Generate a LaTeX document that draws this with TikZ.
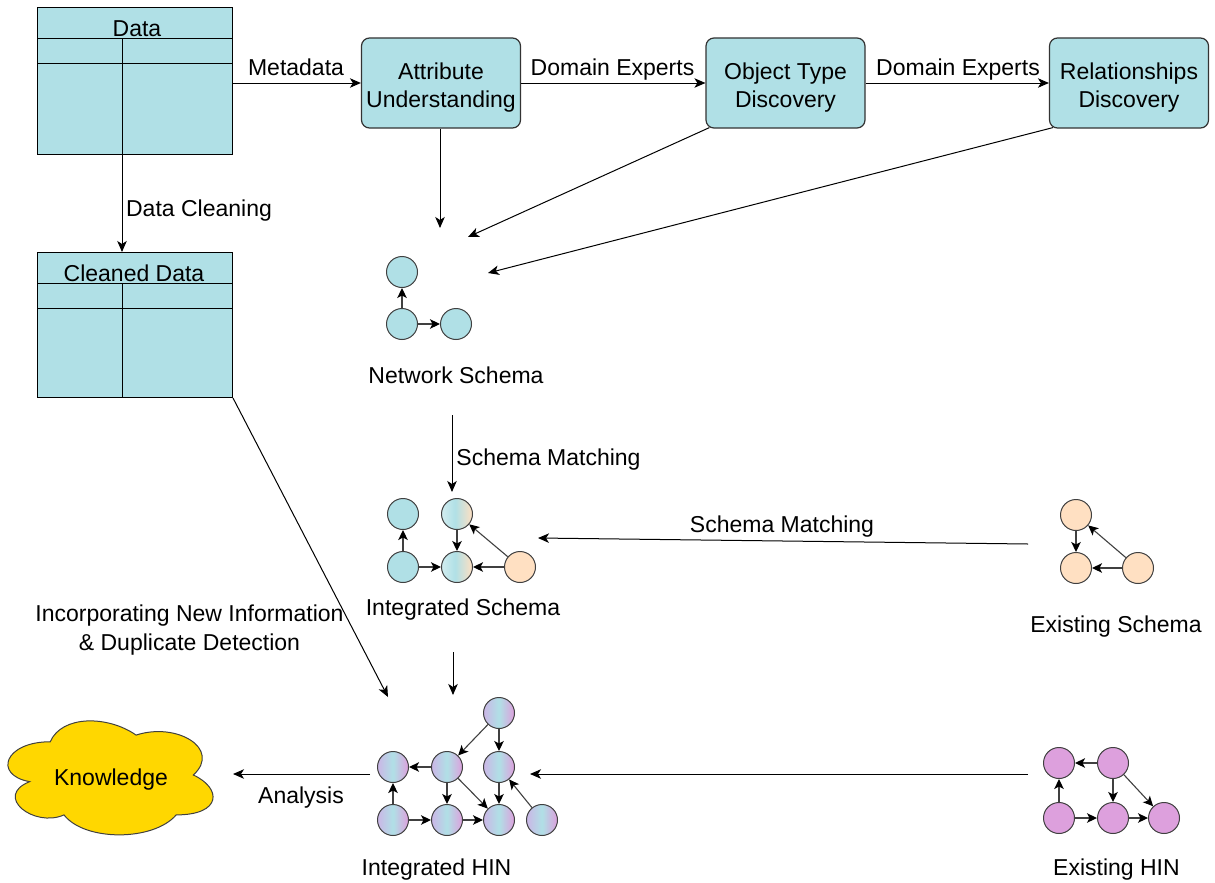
\documentclass[tikz,border=0pt]{standalone}
\usepackage{fontspec}
\setmainfont{Liberation Sans}
\usetikzlibrary{arrows.meta,calc}
\definecolor{cyanF}{HTML}{B0E0E6}
\definecolor{peachF}{HTML}{FFE0C2}
\definecolor{plumF}{HTML}{DDA0DD}
\definecolor{lavF}{HTML}{CBB6E6}
\definecolor{lightcy}{HTML}{D2ECEF}
\definecolor{goldF}{HTML}{FFD700}
\definecolor{edgeC}{HTML}{404040}
\pgfdeclarehorizontalshading{hinshade}{100bp}{color(0bp)=(lavF); color(25bp)=(lavF); color(50bp)=(cyanF); color(75bp)=(plumF); color(100bp)=(plumF)}
\pgfdeclarehorizontalshading{mixshade}{100bp}{color(0bp)=(lightcy); color(25bp)=(lightcy); color(47bp)=(cyanF); color(75bp)=(peachF); color(100bp)=(peachF)}
\begin{document}
\begin{tikzpicture}[x=1pt,y=-1pt,
  font=\fontsize{23}{28.5}\selectfont,
  arr/.style={-{Stealth[length=11pt,width=9.5pt,inset=3pt]}, line width=1pt, black},
  garr/.style={-{Stealth[length=10pt,width=9.5pt,inset=2.5pt,color=black]}, line width=1.1pt, edgeC},
  lbl/.style={inner sep=0pt, anchor=base},
  mlbl/.style={inner sep=0pt, align=center},
  tbl/.style={draw=black, line width=1pt, fill=cyanF, minimum width=195pt, inner sep=0pt, anchor=north west},
  rbox/.style={draw=black!80, line width=1.2pt, fill=cyanF, rounded corners=8pt, minimum width=159pt, minimum height=90pt, inner sep=0pt},
  vert/.style={circle, draw=edgeC, line width=1pt, minimum size=31pt, inner sep=0pt},
  cy/.style={vert, fill=cyanF},
  pe/.style={vert, fill=peachF},
  pl/.style={vert, fill=plumF},
  mx/.style={vert, shading=mixshade},
  hn/.style={vert, shading=hinshade},
]
\useasboundingbox (0,0) rectangle (1215,883);

% ---- tables
\node[tbl, minimum height=147pt] (data) at (37,7) {};
\draw[line width=1pt] (37,39) -- (232,39) (37,64) -- (232,64) (122,39) -- (122,154);
\node[lbl] (datat) at (137,36.5) {Data};
\coordinate (dv) at (122,154);

\node[tbl, minimum height=145pt] (cd) at (37,252) {};
\draw[line width=1pt] (37,283) -- (232,283) (37,308) -- (232,308) (122,283) -- (122,397);
\node[lbl] (cdt) at (134,281.5) {Cleaned Data};

\draw[arr] (dv) -- (cd.north -| dv);
\node[lbl] (dcl) at (199,216) {Data Cleaning};

% ---- top boxes
\node[rbox] (att) at (441,83) {};
\node[mlbl] (attt) at (441,87.5) {Attribute\\Understanding};
\node[rbox] (otd) at (785.5,83) {};
\node[mlbl] (otdt) at (785.5,87.5) {Object Type\\Discovery};
\node[rbox] (rd) at (1129,83) {};
\node[mlbl] (rdt) at (1129,87.5) {Relationships\\Discovery};

\draw[arr] (data.east |- att) -- (att.west);
\node[lbl] (md) at (296,75) {Metadata};
\draw[arr] (att.east) -- (otd.west);
\node[lbl] (de1) at (612.5,75) {Domain Experts};
\draw[arr] (otd.east) -- (rd.west);
\node[lbl] (de2) at (958,75) {Domain Experts};

% ---- network schema
\coordinate (ns1) at (440,228);
\coordinate (ns2) at (468,237);
\coordinate (ns3) at (488,273);
\draw[arr] (att.south -| ns1) -- (ns1);
\draw[arr] ($(otd.south west)+(4,-1)$) -- (ns2);
\draw[arr] ($(rd.south west)+(4,-1)$) -- (ns3);

\node[cy] (n1) at (402,272) {};
\node[cy] (n2) at (402,324) {};
\node[cy] (n3) at (456,324) {};
\draw[garr] (n2) -- (n1);
\draw[garr] (n2) -- (n3);
\node[lbl] (nsl) at (456,383) {Network Schema};

% ---- schema matching
\coordinate (sm1a) at (452,415);
\coordinate (sm1b) at (452,492);
\draw[arr] (sm1a) -- (sm1b);
\node[lbl] (sml1) at (548.5,465) {Schema Matching};

% ---- integrated schema
\node[cy] (i1) at (403,514) {};
\node[mx] (i2) at (457,514) {};
\node[cy] (i3) at (403,567) {};
\node[mx] (i4) at (457,567) {};
\node[pe] (i5) at (520,567) {};
\draw[garr] (i3) -- (i1);
\draw[garr] (i3) -- (i4);
\draw[garr] (i2) -- (i4);
\draw[garr] (i5) -- (i4);
\draw[garr] (i5) -- (i2);
\node[lbl] (isl) at (463,615.5) {Integrated Schema};

% ---- existing schema
\node[pe] (s1) at (1076,515) {};
\node[pe] (s2) at (1076,568) {};
\node[pe] (s3) at (1138,568) {};
\draw[garr] (s1) -- (s2);
\draw[garr] (s3) -- (s2);
\draw[garr] (s3) -- (s1);
\node[lbl] (esl) at (1116,632) {Existing Schema};

\coordinate (sm2a) at (1028,544);
\coordinate (sm2b) at (538,538);
\draw[arr] (sm2a) -- (sm2b);
\node[lbl] (sml2) at (782,532) {Schema Matching};

% ---- to integrated HIN
\coordinate (ih1a) at (453,652);
\coordinate (ih1b) at (453,695);
\draw[arr] (ih1a) -- (ih1b);
\coordinate (ih2) at (388,697);
\draw[arr] (cd.south east) -- (ih2);
\node[mlbl] (inc) at (189.5,630) {Incorporating New Information\\\& Duplicate Detection};

% ---- integrated HIN
\node[hn] (h0) at (499,713) {};
\node[hn] (h1) at (393,767) {};
\node[hn] (h2) at (447,767) {};
\node[hn] (h3) at (499,767) {};
\node[hn] (h4) at (393,820) {};
\node[hn] (h5) at (447,820) {};
\node[hn] (h6) at (499,820) {};
\node[hn] (h7) at (542,820) {};
\draw[garr] (h0) -- (h2);
\draw[garr] (h0) -- (h3);
\draw[garr] (h2) -- (h1);
\draw[garr] (h4) -- (h1);
\draw[garr] (h4) -- (h5);
\draw[garr] (h5) -- (h6);
\draw[garr] (h2) -- (h5);
\draw[garr] (h2) -- (h6);
\draw[garr] (h3) -- (h6);
\draw[garr] (h7) -- (h3);
\node[lbl] (ihl) at (436.5,875) {Integrated HIN};

% ---- existing HIN
\node[pl] (e1) at (1059,763) {};
\node[pl] (e2) at (1113,763) {};
\node[pl] (e3) at (1059,818) {};
\node[pl] (e4) at (1113,818) {};
\node[pl] (e5) at (1164,818) {};
\draw[garr] (e2) -- (e1);
\draw[garr] (e3) -- (e1);
\draw[garr] (e3) -- (e4);
\draw[garr] (e4) -- (e5);
\draw[garr] (e2) -- (e4);
\draw[garr] (e2) -- (e5);
\node[lbl] (ehl) at (1116.5,875) {Existing HIN};

\coordinate (eha) at (1028,774);
\coordinate (ehb) at (530,774);
\draw[arr] (eha) -- (ehb);

% ---- knowledge cloud
\begin{scope}[shift={(-7,708.5)}, x=229pt, y=-133pt]
\draw[fill=goldF, draw=edgeC, line width=1pt]
 (0.25,0.25) .. controls (0.05,0.25) and (0,0.5) .. (0.16,0.55)
 .. controls (0,0.66) and (0.18,0.9) .. (0.31,0.8)
 .. controls (0.4,1) and (0.7,1) .. (0.8,0.8)
 .. controls (1,0.8) and (1,0.6) .. (0.875,0.5)
 .. controls (1,0.3) and (0.8,0.1) .. (0.625,0.2)
 .. controls (0.5,0.05) and (0.3,0.05) .. (0.25,0.25) -- cycle;
\end{scope}
\node[lbl] (know) at (111,785.5) {Knowledge};
\coordinate (kedge) at (233,774);
\coordinate (ana) at (370,774);
\draw[arr] (ana) -- (kedge);
\node[lbl] (anl) at (301,803) {Analysis};
\end{tikzpicture}
\end{document}
